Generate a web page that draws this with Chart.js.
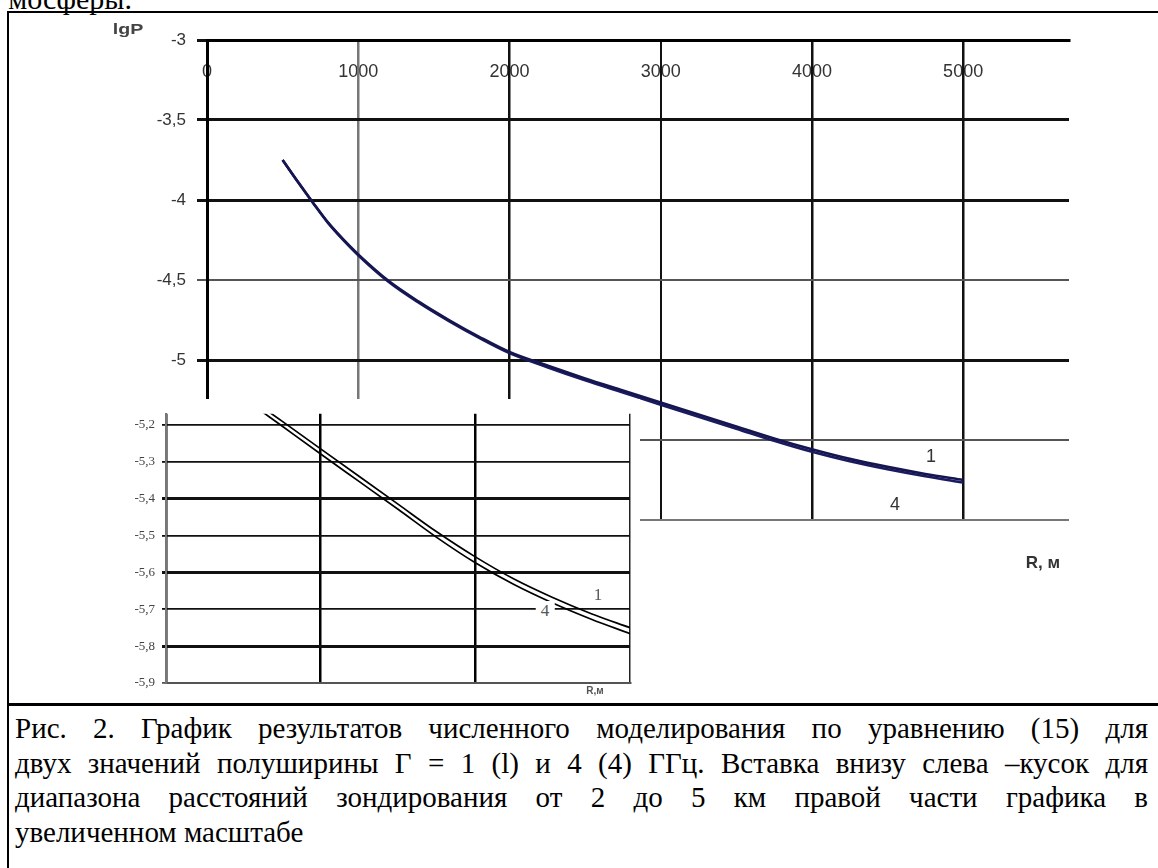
<!DOCTYPE html>
<html>
<head>
<meta charset="utf-8">
<script src="https://cdn.jsdelivr.net/npm/chart.js@4.4.0/dist/chart.umd.min.js"></script>
<style>
  body { margin:0; width:1158px; height:868px; overflow:hidden; background:#fff; position:relative; font-family:"Liberation Sans", Arial, sans-serif; }
  #prev { position:absolute; top:-16px; left:0; width:132px; text-align:right; white-space:nowrap; font-family:"Liberation Serif", serif; font-size:30px; line-height:30px; }
  #frame { position:absolute; left:7px; top:11px; width:1200px; height:900px; border-left:2px solid #000; border-top:2px solid #000; }
  #sep { position:absolute; left:7px; top:703px; width:1200px; border-top:3px solid #000; }
  #main { position:absolute; left:0; top:0; }
  #inset { position:absolute; left:128px; top:399px; }
  .lbl { position:absolute; white-space:nowrap; transform:translate(-50%,-50%); }
  #caption { position:absolute; left:15px; top:711px; width:1133px; font-family:"Liberation Serif", "Times New Roman", serif; font-size:29px; line-height:34.5px; color:#000; }
  #caption div { white-space:nowrap; text-align:justify; text-align-last:justify; }
  #caption div.last { text-align-last:left; }
</style>
</head>
<body>
<div id="prev">мосферы.</div>
<div id="frame"></div>
<canvas id="main" width="1158" height="700"></canvas>
<canvas id="inset" width="512" height="304"></canvas>
<div id="sep"></div>

<div class="lbl" style="left:128px;top:29px;font:bold 14px 'Liberation Sans';color:#444;transform:translate(-50%,-50%) scaleX(1.4)">lgP</div>
<div class="lbl" style="left:1043px;top:563px;font:bold 17px 'Liberation Sans';color:#333">R, м</div>
<div class="lbl" style="left:931px;top:456px;font:18px 'Liberation Sans';color:#333">1</div>
<div class="lbl" style="left:895px;top:504px;font:18px 'Liberation Sans';color:#333">4</div>
<div class="lbl" style="left:598px;top:595px;font:17px 'Liberation Serif';color:#555">1</div>
<div class="lbl" style="left:545px;top:611px;font:17px 'Liberation Serif';color:#555;background:#fff;padding:0 5px">4</div>
<div class="lbl" style="left:595px;top:690px;font:bold 10px 'Liberation Sans';color:#555">R,м</div>

<div id="caption">
  <div>Рис. 2. График результатов численного моделирования по уравнению (15) для</div>
  <div>двух значений полуширины Г = 1 (l) и 4 (4) ГГц. Вставка внизу слева –кусок для</div>
  <div>диапазона расстояний зондирования от 2 до 5 км правой части графика в</div>
  <div class="last">увеличенном масштабе</div>
</div>

<script>
// расстояние зондирования, м
var distanceM = [500, 600, 700, 800, 900, 1000, 1200, 1400, 1600, 1800, 2000, 2250, 2500, 2750, 3000, 3250, 3500, 3750, 4000, 4250, 4500, 4750, 5000];
// lgP для Г = 1 ГГц
var lgP1 = [-3.75, -3.885, -4.015, -4.14, -4.245, -4.34, -4.505, -4.635, -4.75, -4.855, -4.95, -5.035, -5.115, -5.19, -5.265, -5.34, -5.415, -5.49, -5.558, -5.618, -5.668, -5.712, -5.75];
// lgP для Г = 4 ГГц
var lgP4 = [-3.75, -3.886, -4.017, -4.143, -4.249, -4.345, -4.511, -4.642, -4.757, -4.862, -4.957, -5.045, -5.127, -5.203, -5.279, -5.354, -5.429, -5.505, -5.574, -5.633, -5.683, -5.727, -5.766];

var xTicksMain = [0, 1000, 2000, 3000, 4000, 5000];
var yTicksMain = [-6, -5.5, -5, -4.5, -4, -3.5, -3];
var yTicksInset = [-5.9, -5.8, -5.7, -5.6, -5.5, -5.4, -5.3, -5.2];

function toPts(ys) {
  return distanceM.map(function (x, i) { return { x: x, y: ys[i] }; });
}
function comma(v) {
  return String(Math.round(v * 10) / 10).replace('.', ',');
}

var whiteBg = {
  id: 'whiteBg',
  beforeDraw: function (chart) {
    var c = chart.ctx;
    c.save();
    c.fillStyle = '#fff';
    c.fillRect(0, 0, chart.width, chart.height);
    c.restore();
  }
};

// подписи оси R внутри поля графика, под сеткой (линии идут поверх цифр)
var xLabelsInside = {
  id: 'xLabelsInside',
  beforeDraw: function (chart) {
    var s = chart.scales.x, c = chart.ctx;
    c.save();
    c.font = '18px "Liberation Sans"';
    c.fillStyle = '#333';
    c.textAlign = 'center';
    c.textBaseline = 'middle';
    s.ticks.forEach(function (t) {
      c.fillText(String(t.value), s.getPixelForValue(t.value), 72);
    });
    c.restore();
  }
};

// основной график
new Chart(document.getElementById('main').getContext('2d'), {
  type: 'line',
  data: {
    datasets: [
      { label: '1', data: toPts(lgP1), borderColor: '#15154f', borderWidth: 2.6, pointRadius: 0, cubicInterpolationMode: 'monotone' },
      { label: '4', data: toPts(lgP4), borderColor: '#1a1a60', borderWidth: 2.6, pointRadius: 0, cubicInterpolationMode: 'monotone' }
    ]
  },
  plugins: [xLabelsInside],
  options: {
    responsive: false,
    animation: false,
    layout: { padding: { left: 0, top: 0, right: 89, bottom: 180 } },
    plugins: { legend: { display: false }, tooltip: { enabled: false } },
    scales: {
      x: {
        type: 'linear', position: 'top', min: 0, max: 5700,
        afterFit: function (s) { s.height = 40; },
        afterBuildTicks: function (s) { s.ticks = xTicksMain.map(function (v) { return { value: v }; }); },
        ticks: { display: false },
        grid: {
          drawTicks: false,
          color: function (ctx) { return ctx.tick && ctx.tick.value === 1000 ? '#777' : '#111'; },
          lineWidth: function (ctx) { return ctx.tick && ctx.tick.value === 3000 ? 2 : 2.5; }
        },
        border: { color: '#000', width: 3 }
      },
      y: {
        type: 'linear', min: -6, max: -3,
        afterFit: function (s) { s.width = 207; },
        afterBuildTicks: function (s) { s.ticks = yTicksMain.map(function (v) { return { value: v }; }); },
        ticks: { padding: 11, color: '#333', font: { family: 'Liberation Sans', size: 17 }, callback: function (v) { return comma(v); } },
        grid: {
          tickLength: 10,
          color: function (ctx) {
            var v = ctx.tick ? ctx.tick.value : 0;
            if (v === -4.5 || v === -5.5) return '#555';
            if (v === -6) return '#777';
            return '#111';
          },
          lineWidth: function (ctx) {
            var v = ctx.tick ? ctx.tick.value : 0;
            return (v === -4.5 || v === -5.5 || v === -6) ? 2 : 3;
          }
        },
        border: { color: '#000', width: 3 }
      }
    }
  }
});

// вставка: 2-5 км в увеличенном масштабе
new Chart(document.getElementById('inset').getContext('2d'), {
  type: 'line',
  data: {
    datasets: [
      { label: '1', data: toPts(lgP1), borderColor: '#000', borderWidth: 1.7, pointRadius: 0, cubicInterpolationMode: 'monotone' },
      { label: '4', data: toPts(lgP4), borderColor: '#000', borderWidth: 1.7, pointRadius: 0, cubicInterpolationMode: 'monotone' }
    ]
  },
  plugins: [whiteBg],
  options: {
    responsive: false,
    animation: false,
    layout: { padding: { left: 0, top: 4, right: 10, bottom: 20 } },
    plugins: { legend: { display: false }, tooltip: { enabled: false } },
    scales: {
      x: {
        type: 'linear', min: 2000, max: 5000,
        afterFit: function (s) { s.height = 0; },
        ticks: { display: false, stepSize: 1000 },
        grid: {
          drawTicks: false,
          color: function (ctx) { return ctx.tick && ctx.tick.value === 5000 ? '#222' : '#000'; },
          lineWidth: function (ctx) { return ctx.tick && ctx.tick.value === 5000 ? 1.5 : 2.5; }
        },
        border: { color: '#555', width: 2 }
      },
      y: {
        type: 'linear', min: -5.9, max: -5.17,
        afterFit: function (s) { s.width = 38; },
        afterBuildTicks: function (s) { s.ticks = yTicksInset.map(function (v) { return { value: v }; }); },
        ticks: { padding: 7, color: '#444', font: { family: 'Liberation Sans Narrow', size: 13 }, callback: function (v) { return comma(v); } },
        grid: {
          tickLength: 4,
          color: function (ctx) { return ctx.tick && ctx.tick.value === -5.9 ? '#555' : '#111'; },
          lineWidth: function (ctx) {
            var v = ctx.tick ? Math.round(ctx.tick.value * 10) : 0;
            return (v === -54 || v === -56 || v === -58) ? 3 : 1.8;
          }
        },
        border: { color: '#777', width: 2 }
      }
    }
  }
});
</script>
</body>
</html>
